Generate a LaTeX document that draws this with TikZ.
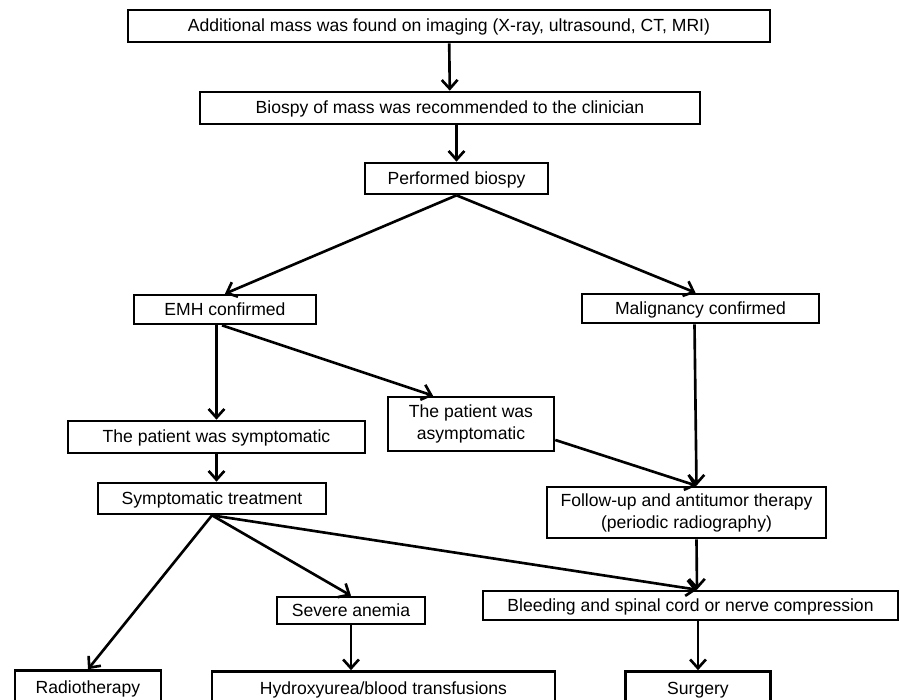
\documentclass[tikz,border=0pt]{standalone}
\usepackage{fontspec}
\setmainfont{Liberation Sans}
\usetikzlibrary{arrows.meta}

\begin{document}
\begin{tikzpicture}[x=0.02cm, y=-0.02cm,
    caixa/.style={draw, line width=1.5pt, inner sep=0pt, align=center,
        font=\fontsize{10}{12.5}\selectfont},
    umalinha/.style={text height=1.55ex, text depth=0.35ex},
    seta/.style={line width=1.5pt, -{Straight Barb[length=5pt,width=9pt]}}]
    % margens
    \useasboundingbox (0,0) rectangle (900,700);

    % caixas
    \node[caixa, umalinha, minimum width=12.84cm, minimum height=0.64cm] (achado) at (449,26)
        {Additional mass was found on imaging (X-ray, ultrasound, CT, MRI)};
    \node[caixa, umalinha, minimum width=10cm, minimum height=0.64cm] (recom) at (450,108)
        {Biospy of mass was recommended to the clinician};
    \node[caixa, umalinha, minimum width=3.66cm, minimum height=0.62cm] (biopsia) at (456.5,178.5)
        {Performed biospy};
    \node[caixa, umalinha, minimum width=3.64cm, minimum height=0.58cm] (emh) at (225,309.5)
        {EMH confirmed};
    \node[caixa, umalinha, minimum width=4.74cm, minimum height=0.58cm] (malig) at (700.5,308.5)
        {Malignancy confirmed};
    \node[caixa, umalinha, minimum width=5.94cm, minimum height=0.64cm] (sint) at (216.5,437)
        {The patient was symptomatic};
    \node[caixa, minimum width=3.32cm, minimum height=1.08cm] (assint) at (471,424)
        {The patient was\\asymptomatic};
    \node[caixa, minimum width=5.58cm, minimum height=1.02cm] (acomp) at (686.5,512.5)
        {Follow-up and antitumor therapy\\(periodic radiography)};
    \node[caixa, umalinha, minimum width=4.56cm, minimum height=0.62cm] (trat) at (212,498.5)
        {Symptomatic treatment};
    \node[caixa, umalinha, minimum width=8.3cm, minimum height=0.58cm] (sangr) at (690.5,605.5)
        {Bleeding and spinal cord or nerve compression};
    \node[caixa, umalinha, minimum width=2.96cm, minimum height=0.54cm] (anemia) at (351,610.5)
        {Severe anemia};
    \node[caixa, umalinha, minimum width=2.92cm, minimum height=0.7cm] (radio) at (88,688)
        {Radiotherapy};
    \node[caixa, umalinha, minimum width=6.86cm, minimum height=0.7cm] (hidroxi) at (383.5,689)
        {Hydroxyurea/blood transfusions};
    \node[caixa, umalinha, minimum width=2.9cm, minimum height=0.7cm] (cirurg) at (698,689)
        {Surgery};

    % setas
    \draw[seta] (achado) -- (recom);
    \draw[seta] (recom.south -| biopsia.north) -- (biopsia.north);
    \draw[seta] (biopsia.south) -- (emh.north);
    \draw[seta] (biopsia.south) -- ([xshift=-0.1cm]malig.north);
    \draw[seta] (emh.south -| sint.north) -- (sint.north);
    \draw[seta] ([xshift=-0.06cm]emh.south) -- ([xshift=-0.76cm]assint.north);
    \draw[seta] ([xshift=-0.12cm]malig.south) -- ([xshift=0.2cm]acomp.north);
    \draw[seta] ([yshift=-0.32cm]assint.east) -- ([xshift=0.2cm]acomp.north);
    \draw[seta] (sint.south) -- (sint.south |- trat.north);
    \draw[seta] (trat.south) -- (radio.north);
    \draw[seta] (trat.south) -- (anemia.north);
    \draw[seta] (trat.south) -- ([xshift=0.13cm]sangr.north);
    \draw[seta] ([xshift=0.2cm]acomp.south) -- ([xshift=0.13cm]sangr.north);
    \draw[seta] (anemia.south) -- (anemia.south |- hidroxi.north);
    \draw[seta] (cirurg.north |- sangr.south) -- (cirurg.north);
\end{tikzpicture}
\end{document}
